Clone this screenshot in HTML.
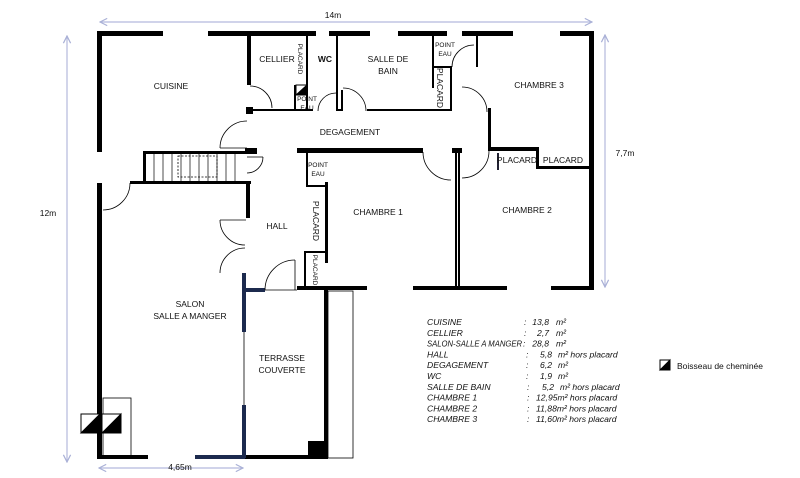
<!DOCTYPE html>
<html><head><meta charset="utf-8"><style>
html,body{margin:0;padding:0;background:#fff;width:800px;height:478px;overflow:hidden}
svg{display:block}
text{font-family:"Liberation Sans",sans-serif;fill:#111}
.l{font-size:8.5px}
.s{font-size:6.5px}
.i{font-size:8.6px;font-style:italic;fill:#333}
</style></head><body>
<svg width="800" height="478" viewBox="0 0 800 478" xmlns="http://www.w3.org/2000/svg">
<defs>
<marker id="a" markerWidth="8" markerHeight="8" refX="7" refY="4" orient="auto-start-reverse"><path d="M1,1 L7,4 L1,7" fill="none" stroke="#a9b0d6" stroke-width="1"/></marker>
</defs>
<g stroke="#b3b9dd" stroke-width="1.2" fill="none">
<line x1="100" y1="22" x2="592" y2="22" marker-start="url(#a)" marker-end="url(#a)"/>
<line x1="67" y1="36" x2="67" y2="462" marker-start="url(#a)" marker-end="url(#a)"/>
<line x1="605" y1="35" x2="605" y2="287" marker-start="url(#a)" marker-end="url(#a)"/>
<line x1="99" y1="468" x2="243" y2="468" marker-start="url(#a)" marker-end="url(#a)"/>
</g>
<text x="333" y="18" class="l" text-anchor="middle">14m</text>
<text x="48" y="216" class="l" text-anchor="middle">12m</text>
<text x="625" y="156" class="l" text-anchor="middle">7,7m</text>
<text x="180" y="470" class="l" text-anchor="middle">4,65m</text>

<g fill="#000">
<rect x="97" y="31" width="66" height="5"/>
<rect x="97" y="31" width="5" height="121"/>
<rect x="97" y="183" width="5" height="276"/>
<rect x="208" y="31" width="108" height="5"/>
<rect x="329" y="31" width="41" height="5"/>
<rect x="398" y="31" width="49" height="5"/>
<rect x="462" y="31" width="51" height="5"/>
<rect x="560" y="31" width="34" height="5"/>
<rect x="589" y="31" width="5" height="259"/>
<rect x="551" y="286" width="43" height="4"/>
<rect x="413" y="286" width="94" height="4"/>
<rect x="297" y="286" width="70" height="4"/>
<rect x="247" y="33" width="4" height="52"/>
<rect x="246" y="107" width="7" height="7"/>
<rect x="251" y="109" width="62" height="2"/>
<rect x="306" y="33" width="2" height="78"/>
<rect x="294" y="85" width="2" height="26"/>
<rect x="294" y="85" width="13" height="2"/>
<rect x="336" y="33" width="2" height="78"/>
<rect x="341" y="90" width="2" height="21"/>
<rect x="336" y="109" width="7" height="2"/>
<rect x="367" y="109" width="85" height="2"/>
<rect x="432" y="33" width="2" height="55"/>
<rect x="432" y="66" width="20" height="2"/>
<rect x="450" y="66" width="2" height="45"/>
<rect x="476" y="33" width="2" height="34"/>
<rect x="488" y="108" width="3" height="42"/>
<rect x="488" y="147" width="50" height="4"/>
<rect x="536" y="147" width="3" height="22"/>
<rect x="537" y="166" width="52" height="3"/>
<rect x="297" y="148" width="126" height="5"/>
<rect x="452" y="148" width="10" height="5"/>
<rect x="455" y="150" width="2" height="138"/>
<rect x="458" y="150" width="2" height="138"/>
<rect x="306" y="151" width="2" height="36"/>
<rect x="306" y="185" width="21" height="2"/>
<rect x="325" y="182" width="3" height="81"/>
<rect x="304" y="251" width="22" height="2"/>
<rect x="304" y="251" width="2" height="37"/>
<rect x="143" y="151" width="113" height="3"/>
<rect x="245" y="148" width="12" height="6"/>
<rect x="130" y="181" width="121" height="3"/>
<rect x="143" y="151" width="3" height="32"/>
<rect x="246" y="183" width="4" height="35"/>
<rect x="324" y="290" width="4" height="168"/>
<rect x="245" y="455" width="83" height="4"/>
<rect x="308" y="441" width="19" height="17"/>
<rect x="97" y="455" width="51" height="4"/>
</g>
<rect x="497" y="153" width="2" height="17" fill="#223"/>
<g fill="#1c2a4e">
<rect x="242" y="273" width="4" height="59"/>
<rect x="242" y="405" width="4" height="53"/>
<rect x="195" y="455" width="50" height="4"/>
<rect x="244" y="288" width="21" height="4"/>
</g>
<g stroke="#000" stroke-width="0.8" fill="none">
<line x1="244" y1="332" x2="244" y2="405"/>
<line x1="265" y1="290" x2="297" y2="290"/>
<rect x="328" y="291" width="25" height="167"/>
<rect x="103" y="398" width="28" height="58"/>
<line x1="220" y1="220" x2="246" y2="220"/>
<line x1="295" y1="260" x2="295" y2="290"/>
<line x1="247" y1="157" x2="263" y2="157"/>
<line x1="220" y1="148" x2="247" y2="148"/>
<g stroke-width="0.7">
<line x1="154" y1="152" x2="154" y2="182"/><line x1="163" y1="152" x2="163" y2="182"/>
<line x1="172" y1="152" x2="172" y2="182"/><line x1="181" y1="152" x2="181" y2="182"/>
<line x1="190" y1="152" x2="190" y2="182"/><line x1="199" y1="152" x2="199" y2="182"/>
<line x1="208" y1="152" x2="208" y2="182"/><line x1="217" y1="152" x2="217" y2="182"/>
<line x1="226" y1="152" x2="226" y2="182"/><line x1="235" y1="152" x2="235" y2="182"/>
</g>
<rect x="178" y="156" width="39" height="21" stroke-dasharray="2,1.5"/>
<path d="M250,86 A22,22 0 0 1 272,108"/>
<path d="M220,148 A27,27 0 0 1 247,121"/>
<path d="M318,111 A18,18 0 0 1 336,93"/>
<path d="M343,88 A23,23 0 0 1 366,111"/>
<path d="M462,87 A25,25 0 0 1 487,112"/>
<path d="M452,67 A22,22 0 0 1 474,45"/>
<path d="M423,152 A28,28 0 0 0 451,180"/>
<path d="M462,178 A27,27 0 0 0 489,151"/>
<path d="M263,157 A16,16 0 0 1 247,173"/>
<path d="M130,183 A27,27 0 0 1 103,210"/>
<path d="M220,220 A25,25 0 0 0 245,245"/>
<path d="M245,248 A25,25 0 0 0 220,273"/>
<path d="M295,260 A30,30 0 0 0 265,290"/>
</g>
<g stroke="#000" stroke-width="1">
<rect x="81" y="414" width="19" height="19" fill="#fff"/><path d="M81,433 L100,414 L100,433 Z" fill="#000"/>
<rect x="102" y="414" width="19" height="19" fill="#fff"/><path d="M102,433 L121,414 L121,433 Z" fill="#000"/>
<rect x="296" y="85" width="11" height="10" fill="#fff"/><path d="M296,95 L307,85 L307,95 Z" fill="#000"/>
<rect x="660" y="360" width="10" height="10" fill="#fff"/><path d="M660,370 L670,360 L670,370 Z" fill="#000"/>
</g>
<g class="l" text-anchor="middle">
<text x="171" y="89">CUISINE</text>
<text x="277" y="62">CELLIER</text>
<text x="325" y="62" style="font-weight:bold">WC</text>
<text x="388" y="62">SALLE DE</text>
<text x="388" y="74">BAIN</text>
<text x="539" y="88">CHAMBRE 3</text>
<text x="350" y="135">DEGAGEMENT</text>
<text x="378" y="215">CHAMBRE 1</text>
<text x="527" y="213">CHAMBRE 2</text>
<text x="277" y="229">HALL</text>
<text x="190" y="307">SALON</text>
<text x="190" y="319">SALLE A MANGER</text>
<text x="282" y="361">TERRASSE</text>
<text x="282" y="373">COUVERTE</text>
<text x="517" y="163">PLACARD</text>
<text x="563" y="163">PLACARD</text>
</g>
<g class="s" text-anchor="middle">
<text x="445" y="47">POINT</text><text x="445" y="56">EAU</text>
<text x="307" y="101">POINT</text><text x="307" y="110">EAU</text>
<text x="318" y="167">POINT</text><text x="318" y="176">EAU</text>
<text transform="translate(298,59) rotate(90)" text-anchor="middle">PLACARD</text>
<text transform="translate(313,270) rotate(90)" text-anchor="middle">PLACARD</text>
</g>
<text class="l" transform="translate(437,88) rotate(90)" text-anchor="middle">PLACARD</text>
<text class="l" transform="translate(313,221) rotate(90)" text-anchor="middle">PLACARD</text>
<text x="677" y="369" class="l">Boisseau de cheminée</text>
<g class="i">
<text x="427" y="325">CUISINE</text>
<text x="427" y="335.8">CELLIER</text>
<text x="427" y="346.6" textLength="95" lengthAdjust="spacingAndGlyphs">SALON-SALLE A MANGER</text>
<text x="427" y="357.4">HALL</text>
<text x="427" y="368.2">DEGAGEMENT</text>
<text x="427" y="379">WC</text>
<text x="427" y="389.8">SALLE DE BAIN</text>
<text x="427" y="400.6">CHAMBRE 1</text>
<text x="427" y="411.4">CHAMBRE 2</text>
<text x="427" y="422.2">CHAMBRE 3</text>
<text x="524" y="325">:</text><text x="524" y="335.8">:</text><text x="523" y="346.6">:</text>
<text x="526" y="357.4">:</text><text x="526" y="368.2">:</text><text x="526" y="379">:</text>
<text x="527" y="389.8">:</text><text x="527" y="400.6">:</text><text x="527" y="411.4">:</text><text x="527" y="422.2">:</text>
<g text-anchor="end">
<text x="549" y="325">13,8</text><text x="549" y="335.8">2,7</text><text x="549" y="346.6">28,8</text>
<text x="552" y="357.4">5,8</text><text x="552" y="368.2">6,2</text><text x="552" y="379">1,9</text>
<text x="554" y="389.8">5,2</text>
</g>
<text x="556" y="325">m²</text><text x="556" y="335.8">m²</text><text x="556" y="346.6">m²</text>
<text x="558" y="357.4">m² hors placard</text><text x="558" y="368.2">m²</text><text x="558" y="379">m²</text>
<text x="560" y="389.8">m² hors placard</text>
<text x="536" y="400.6">12,95m² hors placard</text>
<text x="536" y="411.4">11,88m² hors placard</text>
<text x="536" y="422.2">11,60m² hors placard</text>
</g>
</svg>
</body></html>
